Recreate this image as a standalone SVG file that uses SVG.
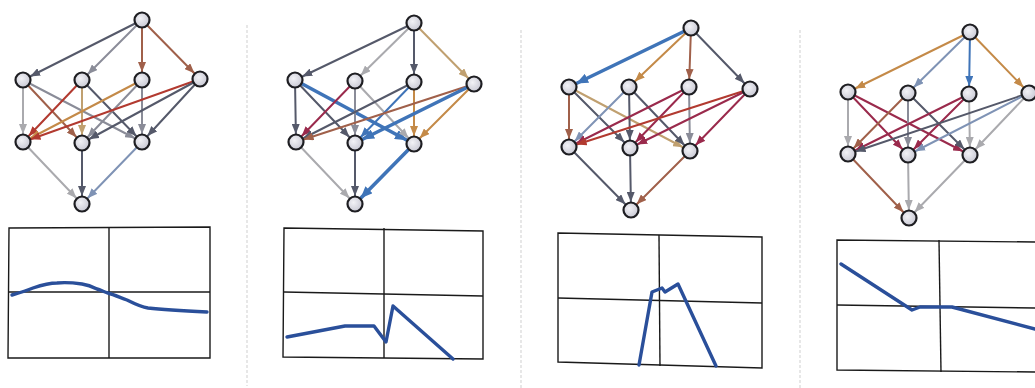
<svg xmlns="http://www.w3.org/2000/svg" width="1035" height="388" viewBox="0 0 1035 388">
<style>
.e{fill:none;stroke-width:2;stroke-linecap:round}
.s{stroke:#55596a;marker-end:url(#ms)}
.g{stroke:#8a8c98;marker-end:url(#mg)}
.l{stroke:#aaaaae;marker-end:url(#ml)}
.r{stroke:#b23a30;marker-end:url(#mr)}
.c{stroke:#9a2a4c;marker-end:url(#mc)}
.o{stroke:#c48a48;marker-end:url(#mo)}
.b{stroke:#a0604a;marker-end:url(#mb)}
.u{stroke:#3f74b8;marker-end:url(#mu)}
.t{stroke:#c0a070;marker-end:url(#mt)}
.v{stroke:#7f93b5;marker-end:url(#mv)}
.U{stroke:#3f74b8;stroke-width:3.6;marker-end:url(#mU)}
.n{fill:url(#ng);stroke:#1e1e22;stroke-width:2.2}
.fr{fill:none;stroke:#1a1a1a;stroke-width:1.4}
.cv{fill:none;stroke:#2a4f9a;stroke-width:3.4;stroke-linejoin:round;stroke-linecap:round}
.sep{stroke:#cfcfcf;stroke-width:1;stroke-dasharray:3 2}
</style>
<defs>
<radialGradient id="ng" cx="0.4" cy="0.4" r="0.7">
<stop offset="0" stop-color="#f2f2f6"/>
<stop offset="1" stop-color="#c4c4d0"/>
</radialGradient>
<marker id="ms" viewBox="0 0 18 8" refX="18" refY="4" markerWidth="18" markerHeight="8" markerUnits="userSpaceOnUse" orient="auto"><path d="M0,0 L10,4 L0,8 z" fill="#55596a"/></marker>
<marker id="mg" viewBox="0 0 18 8" refX="18" refY="4" markerWidth="18" markerHeight="8" markerUnits="userSpaceOnUse" orient="auto"><path d="M0,0 L10,4 L0,8 z" fill="#8a8c98"/></marker>
<marker id="ml" viewBox="0 0 18 8" refX="18" refY="4" markerWidth="18" markerHeight="8" markerUnits="userSpaceOnUse" orient="auto"><path d="M0,0 L10,4 L0,8 z" fill="#aaaaae"/></marker>
<marker id="mr" viewBox="0 0 18 8" refX="18" refY="4" markerWidth="18" markerHeight="8" markerUnits="userSpaceOnUse" orient="auto"><path d="M0,0 L10,4 L0,8 z" fill="#b23a30"/></marker>
<marker id="mc" viewBox="0 0 18 8" refX="18" refY="4" markerWidth="18" markerHeight="8" markerUnits="userSpaceOnUse" orient="auto"><path d="M0,0 L10,4 L0,8 z" fill="#9a2a4c"/></marker>
<marker id="mo" viewBox="0 0 18 8" refX="18" refY="4" markerWidth="18" markerHeight="8" markerUnits="userSpaceOnUse" orient="auto"><path d="M0,0 L10,4 L0,8 z" fill="#c48a48"/></marker>
<marker id="mb" viewBox="0 0 18 8" refX="18" refY="4" markerWidth="18" markerHeight="8" markerUnits="userSpaceOnUse" orient="auto"><path d="M0,0 L10,4 L0,8 z" fill="#a0604a"/></marker>
<marker id="mu" viewBox="0 0 18 8" refX="18" refY="4" markerWidth="18" markerHeight="8" markerUnits="userSpaceOnUse" orient="auto"><path d="M0,0 L10,4 L0,8 z" fill="#3f74b8"/></marker>
<marker id="mt" viewBox="0 0 18 8" refX="18" refY="4" markerWidth="18" markerHeight="8" markerUnits="userSpaceOnUse" orient="auto"><path d="M0,0 L10,4 L0,8 z" fill="#c0a070"/></marker>
<marker id="mv" viewBox="0 0 18 8" refX="18" refY="4" markerWidth="18" markerHeight="8" markerUnits="userSpaceOnUse" orient="auto"><path d="M0,0 L10,4 L0,8 z" fill="#7f93b5"/></marker>
<marker id="mU" viewBox="0 0 20 10" refX="20" refY="5" markerWidth="20" markerHeight="10" markerUnits="userSpaceOnUse" orient="auto"><path d="M0,0 L12,5 L0,10 z" fill="#3f74b8"/></marker>
</defs>
<rect width="1035" height="388" fill="#ffffff"/>
<g id="separators">
<line class="sep" x1="247" y1="25" x2="247" y2="386"/>
<line class="sep" x1="521" y1="30" x2="521" y2="388"/>
<line class="sep" x1="800" y1="30" x2="800" y2="388"/>
</g>
<g id="connectors">
<line class="e s" x1="142" y1="20" x2="23" y2="80"/>
<line class="e g" x1="142" y1="20" x2="82" y2="80"/>
<line class="e b" x1="142" y1="20" x2="142" y2="80"/>
<line class="e b" x1="142" y1="20" x2="200" y2="79"/>
<line class="e l" x1="23" y1="80" x2="23" y2="142"/>
<line class="e b" x1="23" y1="80" x2="82" y2="143"/>
<line class="e g" x1="23" y1="80" x2="142" y2="142"/>
<line class="e r" x1="82" y1="80" x2="23" y2="142"/>
<line class="e t" x1="82" y1="80" x2="82" y2="143"/>
<line class="e s" x1="82" y1="80" x2="142" y2="142"/>
<line class="e o" x1="142" y1="80" x2="23" y2="142"/>
<line class="e g" x1="142" y1="80" x2="82" y2="143"/>
<line class="e g" x1="142" y1="80" x2="142" y2="142"/>
<line class="e r" x1="200" y1="79" x2="23" y2="142"/>
<line class="e s" x1="200" y1="79" x2="82" y2="143"/>
<line class="e s" x1="200" y1="79" x2="142" y2="142"/>
<line class="e l" x1="23" y1="142" x2="82" y2="204"/>
<line class="e s" x1="82" y1="143" x2="82" y2="204"/>
<line class="e v" x1="142" y1="142" x2="82" y2="204"/>
<line class="e s" x1="414" y1="23" x2="295" y2="80"/>
<line class="e l" x1="414" y1="23" x2="355" y2="81"/>
<line class="e s" x1="414" y1="23" x2="414" y2="82"/>
<line class="e t" x1="414" y1="23" x2="474" y2="84"/>
<line class="e s" x1="295" y1="80" x2="296" y2="142"/>
<line class="e s" x1="295" y1="80" x2="355" y2="143"/>
<line class="e U" x1="295" y1="80" x2="414" y2="144"/>
<line class="e c" x1="355" y1="81" x2="296" y2="142"/>
<line class="e g" x1="355" y1="81" x2="355" y2="143"/>
<line class="e l" x1="355" y1="81" x2="414" y2="144"/>
<line class="e s" x1="414" y1="82" x2="296" y2="142"/>
<line class="e u" x1="414" y1="82" x2="355" y2="143"/>
<line class="e o" x1="414" y1="82" x2="414" y2="144"/>
<line class="e b" x1="474" y1="84" x2="296" y2="142"/>
<line class="e U" x1="474" y1="84" x2="355" y2="143"/>
<line class="e o" x1="474" y1="84" x2="414" y2="144"/>
<line class="e l" x1="296" y1="142" x2="355" y2="204"/>
<line class="e s" x1="355" y1="143" x2="355" y2="204"/>
<line class="e U" x1="414" y1="144" x2="355" y2="204"/>
<line class="e U" x1="691" y1="28" x2="569" y2="87"/>
<line class="e o" x1="691" y1="28" x2="629" y2="87"/>
<line class="e b" x1="691" y1="28" x2="689" y2="87"/>
<line class="e s" x1="691" y1="28" x2="750" y2="89"/>
<line class="e b" x1="569" y1="87" x2="569" y2="147"/>
<line class="e s" x1="569" y1="87" x2="630" y2="148"/>
<line class="e t" x1="569" y1="87" x2="690" y2="151"/>
<line class="e v" x1="629" y1="87" x2="569" y2="147"/>
<line class="e s" x1="629" y1="87" x2="630" y2="148"/>
<line class="e s" x1="629" y1="87" x2="690" y2="151"/>
<line class="e c" x1="689" y1="87" x2="569" y2="147"/>
<line class="e c" x1="689" y1="87" x2="630" y2="148"/>
<line class="e g" x1="689" y1="87" x2="690" y2="151"/>
<line class="e r" x1="750" y1="89" x2="569" y2="147"/>
<line class="e c" x1="750" y1="89" x2="630" y2="148"/>
<line class="e c" x1="750" y1="89" x2="690" y2="151"/>
<line class="e s" x1="569" y1="147" x2="631" y2="210"/>
<line class="e s" x1="630" y1="148" x2="631" y2="210"/>
<line class="e b" x1="690" y1="151" x2="631" y2="210"/>
<line class="e o" x1="970" y1="32" x2="848" y2="92"/>
<line class="e v" x1="970" y1="32" x2="908" y2="93"/>
<line class="e u" x1="970" y1="32" x2="969" y2="94"/>
<line class="e o" x1="970" y1="32" x2="1029" y2="93"/>
<line class="e l" x1="848" y1="92" x2="848" y2="154"/>
<line class="e c" x1="848" y1="92" x2="908" y2="155"/>
<line class="e c" x1="848" y1="92" x2="970" y2="155"/>
<line class="e b" x1="908" y1="93" x2="848" y2="154"/>
<line class="e g" x1="908" y1="93" x2="908" y2="155"/>
<line class="e s" x1="908" y1="93" x2="970" y2="155"/>
<line class="e c" x1="969" y1="94" x2="848" y2="154"/>
<line class="e c" x1="969" y1="94" x2="908" y2="155"/>
<line class="e l" x1="969" y1="94" x2="970" y2="155"/>
<line class="e s" x1="1029" y1="93" x2="848" y2="154"/>
<line class="e v" x1="1029" y1="93" x2="908" y2="155"/>
<line class="e l" x1="1029" y1="93" x2="970" y2="155"/>
<line class="e b" x1="848" y1="154" x2="909" y2="218"/>
<line class="e l" x1="908" y1="155" x2="909" y2="218"/>
<line class="e l" x1="970" y1="155" x2="909" y2="218"/>
</g>
<g id="nodes">
<g id="p1-top"><circle class="n" cx="142" cy="20" r="7.5"/></g>
<g id="p1-a"><circle class="n" cx="23" cy="80" r="7.5"/></g>
<g id="p1-b"><circle class="n" cx="82" cy="80" r="7.5"/></g>
<g id="p1-c"><circle class="n" cx="142" cy="80" r="7.5"/></g>
<g id="p1-d"><circle class="n" cx="200" cy="79" r="7.5"/></g>
<g id="p1-e"><circle class="n" cx="23" cy="142" r="7.5"/></g>
<g id="p1-f"><circle class="n" cx="82" cy="143" r="7.5"/></g>
<g id="p1-g"><circle class="n" cx="142" cy="142" r="7.5"/></g>
<g id="p1-bottom"><circle class="n" cx="82" cy="204" r="7.5"/></g>
<g id="p2-top"><circle class="n" cx="414" cy="23" r="7.5"/></g>
<g id="p2-a"><circle class="n" cx="295" cy="80" r="7.5"/></g>
<g id="p2-b"><circle class="n" cx="355" cy="81" r="7.5"/></g>
<g id="p2-c"><circle class="n" cx="414" cy="82" r="7.5"/></g>
<g id="p2-d"><circle class="n" cx="474" cy="84" r="7.5"/></g>
<g id="p2-e"><circle class="n" cx="296" cy="142" r="7.5"/></g>
<g id="p2-f"><circle class="n" cx="355" cy="143" r="7.5"/></g>
<g id="p2-g"><circle class="n" cx="414" cy="144" r="7.5"/></g>
<g id="p2-bottom"><circle class="n" cx="355" cy="204" r="7.5"/></g>
<g id="p3-top"><circle class="n" cx="691" cy="28" r="7.5"/></g>
<g id="p3-a"><circle class="n" cx="569" cy="87" r="7.5"/></g>
<g id="p3-b"><circle class="n" cx="629" cy="87" r="7.5"/></g>
<g id="p3-c"><circle class="n" cx="689" cy="87" r="7.5"/></g>
<g id="p3-d"><circle class="n" cx="750" cy="89" r="7.5"/></g>
<g id="p3-e"><circle class="n" cx="569" cy="147" r="7.5"/></g>
<g id="p3-f"><circle class="n" cx="630" cy="148" r="7.5"/></g>
<g id="p3-g"><circle class="n" cx="690" cy="151" r="7.5"/></g>
<g id="p3-bottom"><circle class="n" cx="631" cy="210" r="7.5"/></g>
<g id="p4-top"><circle class="n" cx="970" cy="32" r="7.5"/></g>
<g id="p4-a"><circle class="n" cx="848" cy="92" r="7.5"/></g>
<g id="p4-b"><circle class="n" cx="908" cy="93" r="7.5"/></g>
<g id="p4-c"><circle class="n" cx="969" cy="94" r="7.5"/></g>
<g id="p4-d"><circle class="n" cx="1029" cy="93" r="7.5"/></g>
<g id="p4-e"><circle class="n" cx="848" cy="154" r="7.5"/></g>
<g id="p4-f"><circle class="n" cx="908" cy="155" r="7.5"/></g>
<g id="p4-g"><circle class="n" cx="970" cy="155" r="7.5"/></g>
<g id="p4-bottom"><circle class="n" cx="909" cy="218" r="7.5"/></g>
</g>
<g id="plot1">
<polygon class="fr" points="9,228 210,227 210,358 8,358"/>
<line class="fr" x1="109" y1="227" x2="109" y2="358"/>
<line class="fr" x1="9" y1="292" x2="210" y2="292"/>
<path class="cv" d="M12,295 C22,292 28,290 33,288 C42,285 50,283 57,283 C66,282 75,283 82,284 C89,285 93,287 97,289 C101,290 104,292 108,293 C115,295 121,298 127,300 C135,304 141,307 148,308 C165,310 185,311 207,312"/>
</g>
<g id="plot2">
<polygon class="fr" points="284,228 483,231 483,359 283,357"/>
<line class="fr" x1="384" y1="228" x2="384" y2="358"/>
<line class="fr" x1="284" y1="292" x2="483" y2="296"/>
<polyline class="cv" points="287,337 345,326 374,326 386,342 393,306 453,359"/>
</g>
<g id="plot3">
<polygon class="fr" points="558,233 762,237 762,368 558,362"/>
<line class="fr" x1="659" y1="235" x2="660" y2="366"/>
<line class="fr" x1="558" y1="298" x2="762" y2="303"/>
<polyline class="cv" points="639,365 652,292 662,288 665,292 678,284 716,366"/>
</g>
<g id="plot4">
<polyline class="fr" points="1035,242 837,240 837,370 1035,372"/>
<line class="fr" x1="939" y1="240" x2="941" y2="372"/>
<line class="fr" x1="837" y1="305" x2="1035" y2="308"/>
<polyline class="cv" points="841,264 912,310 920,307 952,307 1035,329"/>
</g>
</svg>
